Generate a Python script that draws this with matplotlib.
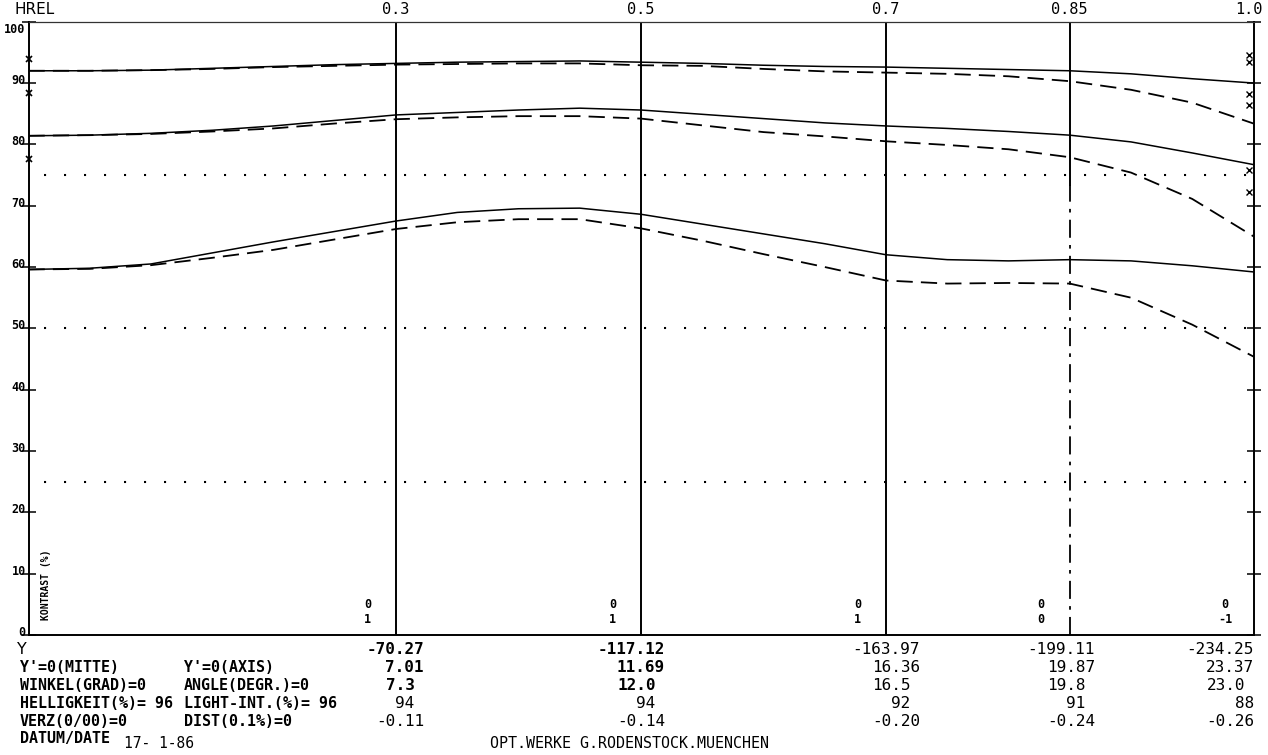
import matplotlib
matplotlib.use('Agg')
import matplotlib.pyplot as plt

# ---------------- data ----------------
hrel = [0.00, 0.05, 0.10, 0.15, 0.20, 0.25, 0.30, 0.35, 0.40, 0.45, 0.50,
        0.55, 0.60, 0.65, 0.70, 0.75, 0.80, 0.85, 0.90, 0.95, 1.00]

sag_10 = [92.0, 92.0, 92.1, 92.4, 92.7, 93.0, 93.2, 93.4, 93.5, 93.6, 93.4,
          93.2, 92.9, 92.7, 92.6, 92.4, 92.2, 92.0, 91.5, 90.7, 90.0]
tan_10 = [92.0, 92.0, 92.1, 92.3, 92.6, 92.8, 93.0, 93.1, 93.2, 93.2, 92.9,
          92.8, 92.3, 91.9, 91.7, 91.5, 91.1, 90.3, 88.9, 86.8, 83.4]
sag_20 = [81.4, 81.5, 81.8, 82.3, 83.0, 83.9, 84.8, 85.2, 85.6, 85.9, 85.6,
          84.9, 84.2, 83.5, 83.0, 82.6, 82.1, 81.5, 80.4, 78.6, 76.7]
tan_20 = [81.4, 81.5, 81.7, 82.1, 82.6, 83.4, 84.1, 84.4, 84.6, 84.6, 84.2,
          83.1, 82.0, 81.3, 80.5, 79.9, 79.2, 77.9, 75.4, 71.1, 65.0]
sag_40 = [59.6, 59.8, 60.5, 62.3, 64.1, 65.8, 67.5, 68.9, 69.5, 69.6, 68.6,
          67.0, 65.4, 63.8, 62.0, 61.2, 61.0, 61.2, 61.0, 60.2, 59.2]
tan_40 = [59.6, 59.7, 60.3, 61.5, 62.8, 64.5, 66.2, 67.3, 67.8, 67.8, 66.3,
          64.3, 62.1, 60.0, 57.8, 57.3, 57.4, 57.3, 55.0, 50.6, 45.4]

mark_hrel = [0.3, 0.5, 0.7, 0.85, 1.0]
mark_labels = ['0.3', '0.5', '0.7', '0.85', '1.0']
y_obj = ['-70.27', '-117.12', '-163.97', '-199.11', '-234.25']
y_img = ['7.01', '11.69', '16.36', '19.87', '23.37']
angle = ['7.3', '12.0', '16.5', '19.8', '23.0']
light = ['94', '94', '92', '91', '88']
dist = ['-0.11', '-0.14', '-0.20', '-0.24', '-0.26']
code_top = ['0', '0', '0', '0', '0']
code_bot = ['1', '1', '1', '0', '-1']

ref_levels = [75, 50, 25]
left_marks = [93.9, 88.3, 77.6]
right_marks = [94.6, 93.4, 88.2, 86.4, 75.8, 72.2]
yticks = [0, 10, 20, 30, 40, 50, 60, 70, 80, 90, 100]

row_labels_1 = ["Y'=0(MITTE)", "WINKEL(GRAD)=0", "HELLIGKEIT(%)= 96", "VERZ(0/00)=0"]
row_labels_2 = ["Y'=0(AXIS)", "ANGLE(DEGR.)=0", "LIGHT-INT.(%)= 96", "DIST(0.1%)=0"]
date_text = "17- 1-86"
maker_text = "OPT.WERKE G.RODENSTOCK.MUENCHEN"

# ---------------- figure ----------------
W, H = 1268, 755
MONO = 'DejaVu Sans Mono'
fig = plt.figure(figsize=(W / 100, H / 100), dpi=100)
fig.patch.set_facecolor('white')
ax = fig.add_axes([28.5 / W, 120 / H, 1225 / W, 613.3 / H])
ax.set_xlim(0, 1)
ax.set_ylim(0, 100)
ax.set_xticks([])
ax.set_yticks(yticks)
ax.tick_params(axis='y', which='both', left=True, right=True, direction='inout',
               length=10, width=1.1, labelleft=False, labelright=False)
for s in ['left', 'right', 'bottom']:
    ax.spines[s].set_linewidth(1.4)
ax.spines['top'].set_linewidth(0.9)
ax.spines['top'].set_color('#333333')

# vertical field lines
for h in mark_hrel[:3]:
    ax.axvline(h, color='black', lw=1.4, zorder=2)
ax.plot([mark_hrel[3], mark_hrel[3]], [73.4, 100], color='black', lw=1.4)
ax.plot([mark_hrel[3], mark_hrel[3]], [0, 73.4], color='black', lw=1.3,
        ls=(0, (10, 4, 2, 4)))

# reference dotted lines
ax.hlines(ref_levels, 0.013, 1.0, colors='black', linestyles=(0, (1, 8.6)), lw=1.5)

# curves
solid_kw = dict(color='black', lw=1.1, solid_joinstyle='round')
dash_kw = dict(color='black', lw=1.3, ls=(0, (9, 4.5)))
ax.plot(hrel, sag_10, **solid_kw)
ax.plot(hrel, tan_10, **dash_kw)
ax.plot(hrel, sag_20, **solid_kw)
ax.plot(hrel, tan_20, **dash_kw)
ax.plot(hrel, sag_40, **solid_kw)
ax.plot(hrel, tan_40, **dash_kw)

# markers on axes
ax.plot([0] * len(left_marks), left_marks, 'x', color='black', ms=4.5, mew=1.2,
        clip_on=False)
ax.plot([0.9965] * len(right_marks), right_marks, 'x', color='black', ms=4,
        mew=1.0, clip_on=False)

# y tick labels
for v in yticks:
    dy = -5.5 if v == 100 else 1.8
    ax.annotate(str(v), xy=(0, v), xytext=(-2, dy), textcoords='offset points',
                ha='right', va='center', fontsize=8.5, family=MONO,
                fontweight='bold', annotation_clip=False)

# top labels
ax.annotate('HREL', xy=(0, 100), xycoords='data', xytext=(-10, 9),
            textcoords='offset points', ha='left', va='center', fontsize=11,
            family='DejaVu Sans', annotation_clip=False)
for h, lab in zip(mark_hrel, mark_labels):
    ax.annotate(lab, xy=(h, 100), xytext=(0 if h < 1 else -3, 9),
                textcoords='offset points', ha='center', va='center',
                fontsize=11, family=MONO, annotation_clip=False)

# small codes near the bottom
for h, a, b in zip(mark_hrel, code_top, code_bot):
    ax.annotate(a, xy=(h, 5.0), xytext=(-20.5, 0), textcoords='offset points',
                ha='center', va='center', fontsize=8.5, family=MONO,
                fontweight='bold', annotation_clip=False)
    ax.annotate(b, xy=(h, 2.5), xytext=(-20.5, 0), textcoords='offset points',
                ha='center', va='center', fontsize=8.5, family=MONO,
                fontweight='bold', annotation_clip=False)

fig.text(46 / W, 1 - 585 / H, 'KONTRAST (%)', rotation=90, ha='center',
         va='center', fontsize=7, family=MONO, fontweight='bold')

# ---------------- table below ----------------
def px_y(yp):
    return 1 - yp / H

col_right_px = [424, 665, 920, 1095, 1254]
row_y = [650, 668, 686, 704, 722]
rows = [y_obj, y_img, angle, light, dist]
row_shift = [0, 0, -9, -10, 0]
for r, (vals, yp, sh) in enumerate(zip(rows, row_y, row_shift)):
    for c, val in enumerate(vals):
        xr = col_right_px[c] + (sh if not (r == 3 and c == 4) else 0)
        fig.text(xr / W, px_y(yp), val, ha='right', va='center',
                 fontsize=11.5, family=MONO,
                 fontweight='bold' if r < 3 and c < 2 else 'normal')

fig.text(17 / W, px_y(650), 'Y', ha='left', va='center', fontsize=11.5,
         family='DejaVu Sans')
for lab, yp in zip(row_labels_1, row_y[1:]):
    fig.text(20 / W, px_y(yp), lab, ha='left', va='center', fontsize=10.8,
             family=MONO, fontweight='bold')
for lab, yp in zip(row_labels_2, row_y[1:]):
    fig.text(184 / W, px_y(yp), lab, ha='left', va='center', fontsize=10.8,
             family=MONO, fontweight='bold')
fig.text(20 / W, px_y(738), 'DATUM/DATE', ha='left', va='center',
         fontsize=10.8, family=MONO, fontweight='bold')
fig.text(124 / W, px_y(743), date_text, ha='left', va='center', fontsize=10.5,
         family=MONO)
fig.text(490 / W, px_y(743), maker_text, ha='left', va='center', fontsize=10.8,
         family=MONO)

fig.savefig('out.png', dpi=100, facecolor='white')
